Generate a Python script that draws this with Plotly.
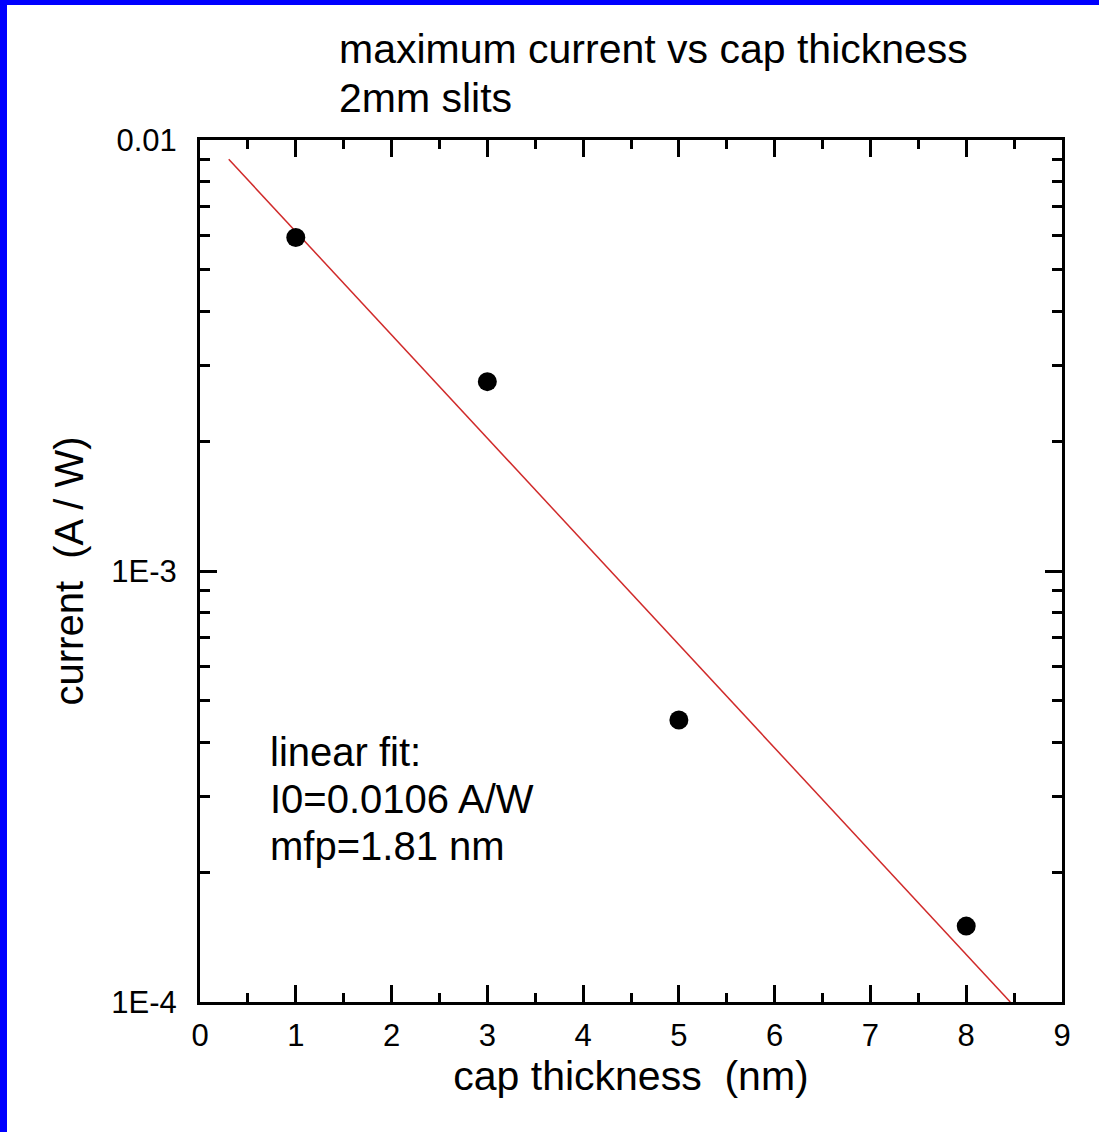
import plotly.graph_objects as go

# ---- data ----
thickness_nm = [1, 3, 5, 8]
current_AW = [0.00594, 0.00275, 0.000451, 0.000150]

fit_x = [0.30, 8.46]
fit_y = [0.00902, 0.0001]

x_tickvals = [0, 1, 2, 3, 4, 5, 6, 7, 8, 9]
x_ticktext = ["0", "1", "2", "3", "4", "5", "6", "7", "8", "9"]
y_tickvals = [1e-4, 1e-3, 1e-2]
y_ticktext = ["1E-4", "1E-3", "0.01"]
y_minor = [m * 1e-4 for m in range(2, 10)] + [m * 1e-3 for m in range(2, 10)]

title_lines = ["maximum current vs cap thickness", "2mm slits"]
fit_lines = ["linear fit:", "I0=0.0106 A/W", "mfp=1.81 nm"]

# ---- layout geometry ----
W, H = 1099, 1132
L, R, T, B = 200, 37, 140, 130
PW, PH = W - L - R, H - T - B


def pxx(px):
    return (px - L) / PW


def pxy(py):
    return (H - B - py) / PH


FONT = "Liberation Sans, Arial, sans-serif"

fig = go.Figure()

fig.add_trace(go.Scatter(
    x=fit_x, y=fit_y, mode="lines",
    line=dict(color="#d02a2a", width=1.5),
    showlegend=False, hoverinfo="skip",
))
fig.add_trace(go.Scatter(
    x=thickness_nm, y=current_AW, mode="markers",
    marker=dict(color="black", size=19, line=dict(width=0)),
    showlegend=False,
))

axis_common = dict(
    showline=True, linecolor="black", linewidth=3, mirror="ticks",
    ticks="inside", tickcolor="black", tickwidth=3, ticklen=17,
    showgrid=False, zeroline=False,
    tickfont=dict(family=FONT, size=31, color="black"),
)

fig.update_xaxes(
    range=[0, 9], tickvals=x_tickvals, ticktext=x_ticktext,
    ticklabelstandoff=4,
    minor=dict(ticks="inside", dtick=0.5, ticklen=9, tickwidth=3,
               tickcolor="black", showgrid=False),
    title=dict(text="cap thickness \u00a0(nm)", font=dict(family=FONT, size=41, color="black"),
               standoff=2),
    **axis_common,
)
fig.update_yaxes(
    type="log", range=[-4, -2], tickvals=y_tickvals, ticktext=y_ticktext,
    ticklabelstandoff=14,
    minor=dict(ticks="inside", tickvals=y_minor, ticklen=10, tickwidth=3,
               tickcolor="black", showgrid=False),
    title=dict(text="current \u00a0(A / W)", font=dict(family=FONT, size=40, color="black"),
               standoff=16),
    **axis_common,
)

annotations = []
title_y_px = [49, 98]
for txt, ypx in zip(title_lines, title_y_px):
    annotations.append(dict(
        text=txt, xref="paper", yref="paper", x=pxx(337), y=pxy(ypx),
        xanchor="left", yanchor="middle", showarrow=False,
        font=dict(family=FONT, size=41, color="black"),
    ))
fit_y_px = [752, 799, 846]
for txt, ypx in zip(fit_lines, fit_y_px):
    annotations.append(dict(
        text=txt, xref="paper", yref="paper", x=pxx(268), y=pxy(ypx),
        xanchor="left", yanchor="middle", showarrow=False,
        font=dict(family=FONT, size=40, color="black"),
    ))

shapes = [
    dict(type="rect", xref="paper", yref="paper", layer="above",
         x0=pxx(0), x1=pxx(7), y0=pxy(H), y1=pxy(0),
         fillcolor="#0000ff", line=dict(width=0)),
    dict(type="rect", xref="paper", yref="paper", layer="above",
         x0=pxx(0), x1=pxx(W), y0=pxy(5), y1=pxy(0),
         fillcolor="#0000ff", line=dict(width=0)),
]

fig.update_layout(
    width=W, height=H,
    margin=dict(l=L, r=R, t=T, b=B, pad=0),
    paper_bgcolor="white", plot_bgcolor="white",
    font=dict(family=FONT, color="black"),
    annotations=annotations, shapes=shapes,
    showlegend=False,
)

fig.write_html(
    "out.html",
    config={"displayModeBar": False},
    post_script="document.body.style.margin='0px';document.body.style.overflow='hidden';",
)
